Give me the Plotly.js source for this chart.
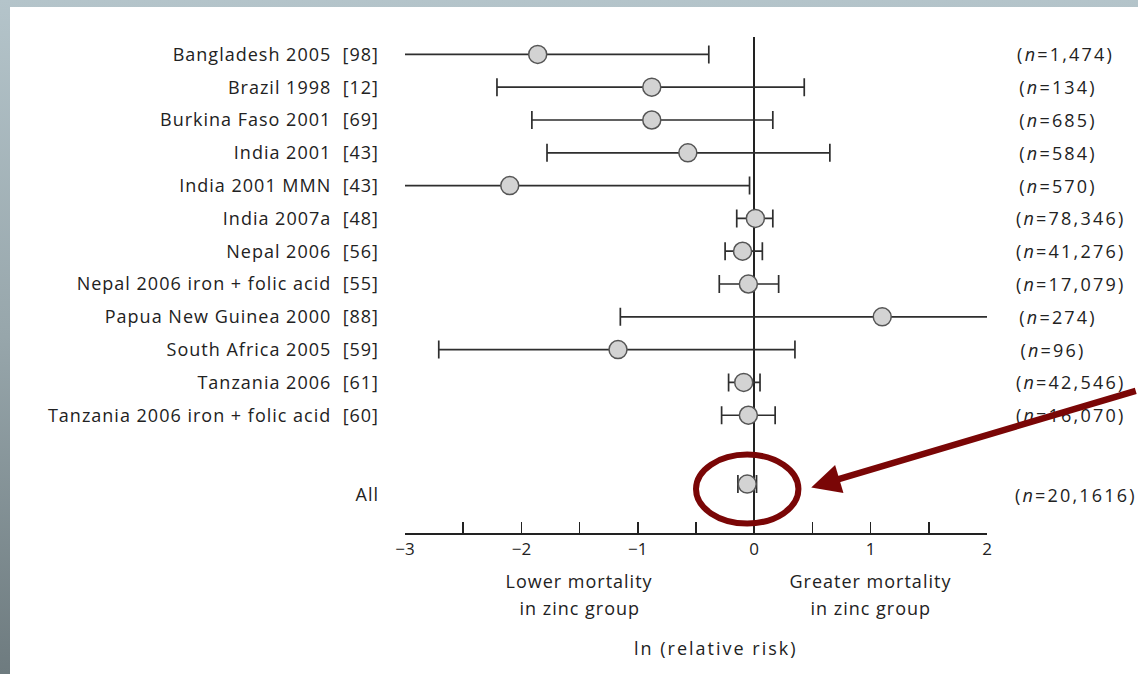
<!DOCTYPE html>
<html>
<head>
<meta charset="utf-8">
<script src="https://cdn.plot.ly/plotly-3.0.1.min.js"></script>
<style>
  html, body { margin: 0; padding: 0; width: 1138px; height: 674px; overflow: hidden; }
  body { background: linear-gradient(to bottom, #b4c4ca 0%, #97a6ab 50%, #6e7b7f 100%); }
  #chart { position: absolute; left: 10px; top: 7px; width: 1128px; height: 667px; background: #fff; }
  #chart .ytick text { letter-spacing: 1px; }
</style>
</head>
<body>
<div id="chart"></div>
<script>
// Zinc supplementation trials: log relative risk of mortality with 95% CI
const studies = [
  "Bangladesh 2005", "Brazil 1998", "Burkina Faso 2001", "India 2001",
  "India 2001 MMN", "India 2007a", "Nepal 2006", "Nepal 2006 iron + folic acid",
  "Papua New Guinea 2000", "South Africa 2005", "Tanzania 2006",
  "Tanzania 2006 iron + folic acid", "All"
];
const refs = ["[98]", "[12]", "[69]", "[43]", "[43]", "[48]", "[56]", "[55]", "[88]", "[59]", "[61]", "[60]", ""];
const estimates = [-1.86, -0.88, -0.88, -0.57, -2.10, 0.01, -0.10, -0.05, 1.10, -1.17, -0.09, -0.05, -0.06];
const lower     = [-3.30, -2.21, -1.91, -1.78, -3.25, -0.15, -0.25, -0.30, -1.15, -2.71, -0.22, -0.28, -0.14];
const upper     = [-0.39,  0.43,  0.16,  0.65, -0.04,  0.16,  0.07,  0.21,  2.35,  0.35,  0.05,  0.18,  0.02];
const sampleSizes = ["1,474", "134", "685", "584", "570", "78,346", "41,276", "17,079", "274", "96", "42,546", "16,070", "20,1616"];
const rows = [0, 1, 2, 3, 4, 5, 6, 7, 8, 9, 10, 11, 13.1];
const xTickVals = [-3, -2.5, -2, -1.5, -1, -0.5, 0, 0.5, 1, 1.5, 2];
const xTickText = ["\u22123", "", "\u22122", "", "\u22121", "", "0", "", "1", "", "2"];

const ink = "#222";
const accent = "#7a0606";
const fontFamily = "'Open Sans', 'DejaVu Sans', sans-serif";

const rowLabels = studies.map((s, i) => refs[i] ? s + "\u00a0 " + refs[i] : s);
const allIdx = studies.length - 1;
// the pooled row's text sits a little below its marker
const labelRows = rows.map((r, i) => i === allIdx ? r + 0.32 : r);

const trace = {
  type: "scatter",
  mode: "markers",
  x: estimates,
  y: rows,
  marker: { size: 18, color: "#d3d3d3", line: { color: "#555", width: 1.5 } },
  error_x: {
    type: "data",
    symmetric: false,
    array: upper.map((u, i) => u - estimates[i]),
    arrayminus: lower.map((l, i) => estimates[i] - l),
    width: 9,
    thickness: 1.7,
    color: "#2e2e2e"
  },
  hoverinfo: "skip"
};

const annotations = [];
const spacing = [];   // letter-spacing per annotation, applied through CSS

sampleSizes.forEach((n, i) => {
  annotations.push({
    xref: "paper", yref: "y",
    x: 1, y: labelRows[i],
    xanchor: "left", yanchor: "middle",
    xshift: 38,
    text: "(<i>n</i>=" + n + ")",
    showarrow: false,
    font: { family: fontFamily, size: 18, color: ink }
  });
  spacing.push(2.2);
});

const textLines = [
  { x: -1.5, y: -0.097, t: "Lower mortality", ls: 1 },
  { x: -1.5, y: -0.152, t: "in zinc group", ls: 1 },
  { x: 1.0,  y: -0.097, t: "Greater mortality", ls: 1 },
  { x: 1.0,  y: -0.152, t: "in zinc group", ls: 1 },
  { x: -0.33, y: -0.232, t: "ln (relative risk)", ls: 2 }
];
textLines.forEach(l => {
  annotations.push({
    xref: "x", yref: "paper", x: l.x, y: l.y,
    xanchor: "center", yanchor: "middle",
    text: l.t, showarrow: false,
    font: { family: fontFamily, size: 18, color: ink }
  });
  spacing.push(l.ls);
});

// Pointer to the pooled estimate
annotations.push({
  xref: "x", yref: "y",
  x: estimates[allIdx] + 0.55, y: rows[allIdx] + 0.1,
  ax: 326, ay: -97,
  text: "",
  showarrow: true,
  arrowhead: 2,
  arrowsize: 0.9,
  arrowwidth: 6.5,
  arrowcolor: accent,
  standoff: 0
});
spacing.push(0);

const css = spacing.map((s, i) =>
  '#chart .annotation[data-index="' + i + '"] text { letter-spacing: ' + s + 'px; }').join("\n");
const styleEl = document.createElement("style");
styleEl.textContent = css;
document.head.appendChild(styleEl);

const layout = {
  width: 1128,
  height: 667,
  margin: { l: 395, r: 151, t: 30, b: 141 },
  paper_bgcolor: "#fff",
  plot_bgcolor: "#fff",
  showlegend: false,
  font: { family: fontFamily, size: 17, color: ink },
  xaxis: {
    range: [-3, 2],
    tickvals: xTickVals,
    ticktext: xTickText,
    ticks: "inside",
    ticklen: 11,
    tickwidth: 1.5,
    tickcolor: ink,
    showline: true,
    linecolor: ink,
    linewidth: 1.5,
    showgrid: false,
    zeroline: true,
    zerolinecolor: ink,
    zerolinewidth: 1.5,
    tickfont: { family: fontFamily, size: 17, color: ink },
    fixedrange: true
  },
  yaxis: {
    range: [14.59, -0.53],
    tickvals: labelRows,
    ticktext: rowLabels,
    ticks: "",
    ticklabelstandoff: 25,
    showline: false,
    showgrid: false,
    zeroline: false,
    tickfont: { family: fontFamily, size: 18, color: ink },
    fixedrange: true
  },
  shapes: [{
    type: "circle",
    xref: "x", yref: "y",
    x0: estimates[allIdx] - 0.44, x1: estimates[allIdx] + 0.44,
    y0: rows[allIdx] - 0.9, y1: rows[allIdx] + 1.2,
    line: { color: accent, width: 6 }
  }],
  annotations: annotations
};

Plotly.newPlot("chart", [trace], layout, { displayModeBar: false, staticPlot: true });
</script>
</body>
</html>
